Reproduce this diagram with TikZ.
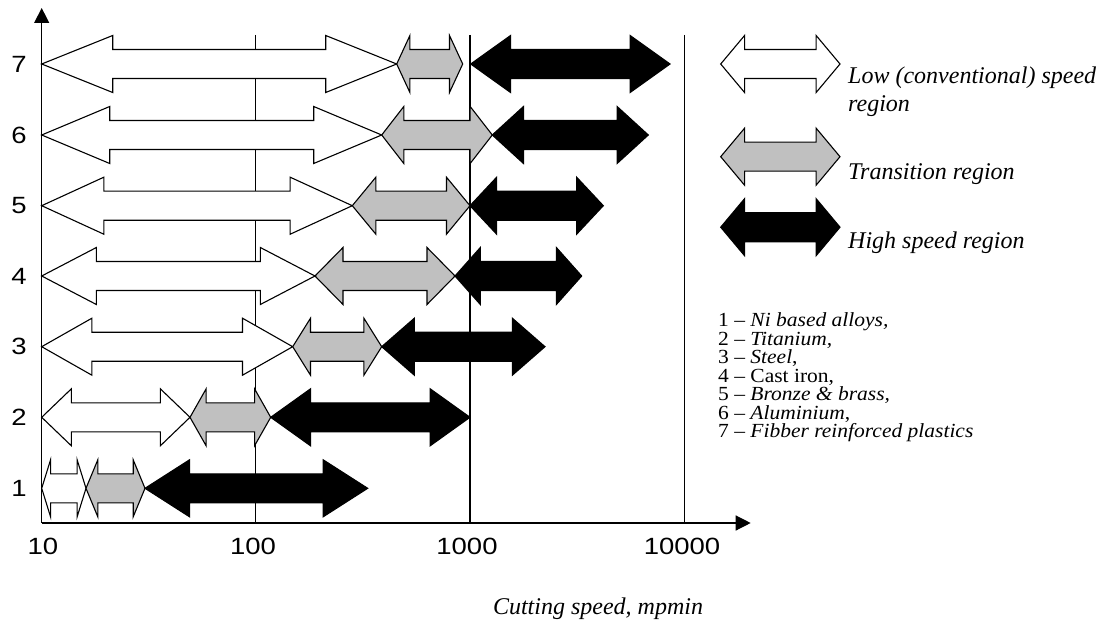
\documentclass[tikz,border=0pt]{standalone}
\usepackage{fontspec}
\setmainfont{Liberation Serif}
\newfontfamily\axfont[FakeStretch=1.17]{Liberation Sans}
\newfontfamily\listfont[FakeStretch=1.075,Ligatures=TeX]{Liberation Serif}
\usetikzlibrary{arrows.meta}
\definecolor{midgray}{RGB}{192,192,192}
% #1 style, #2 x-start, #3 x-end, #4 y-centre
\newcommand\regarrow[4]{%
  \pgfmathsetmacro\hl{0.2*(#3-#2)}%
  \draw[#1] (#2,#4) -- ({#2+\hl},{#4-28.5}) -- ({#2+\hl},{#4-14.5})
    -- ({#3-\hl},{#4-14.5}) -- ({#3-\hl},{#4-28.5}) -- (#3,#4)
    -- ({#3-\hl},{#4+28.5}) -- ({#3-\hl},{#4+14.5})
    -- ({#2+\hl},{#4+14.5}) -- ({#2+\hl},{#4+28.5}) -- cycle;}
\tikzset{
  lowreg/.style={draw=black, fill=white, line width=1.1pt, line join=miter},
  transreg/.style={draw=black, fill=midgray, line width=1.1pt, line join=miter},
  highreg/.style={draw=black, fill=black, line width=1.1pt, line join=miter},
  axisline/.style={line width=1.3pt, -{Triangle[length=15pt,width=15pt]}},
  gridline/.style={line width=1.2pt},
  ticklab/.style={inner sep=0pt, anchor=base, font=\axfont\fontsize{23.5}{28}\selectfont},
  rowlab/.style={inner sep=0pt, anchor=center, font=\axfont\fontsize{23.5}{28}\selectfont},
  legtext/.style={inner sep=0pt, anchor=base west, font=\itshape\fontsize{24}{28}\selectfont},
  listtext/.style={inner sep=0pt, anchor=base west, align=left, font=\listfont\fontsize{20}{18.45}\selectfont},
}
\begin{document}
\begin{tikzpicture}[x=1pt,y=-1pt]
\useasboundingbox[fill=white] (0,0) rectangle (1101,623);
% axes coordinates
\coordinate (O) at (41.7,523);
\coordinate (ytop) at (41.7,8);
\coordinate (xend) at (750.7,523);
\coordinate (g100t) at (255.7,35);
\coordinate (g100b) at (255.7,523);
\coordinate (g1000t) at (470,35);
\coordinate (g1000b) at (470,523);
\coordinate (g10000t) at (684.3,35);
\coordinate (g10000b) at (684.3,523);
% grid lines
\draw[gridline] (g100t) -- (g100b);
\draw[gridline] (g1000t) -- (g1000b);
\draw[gridline] (g10000t) -- (g10000b);
% rows (y centres 64,135,205.7,276,346.7,417.3,488.3)
\regarrow{lowreg}{41.7}{396.7}{64}
\regarrow{transreg}{396.7}{462.7}{64}
\regarrow{highreg}{470.7}{670}{64}
\regarrow{lowreg}{41.7}{381.7}{135}
\regarrow{transreg}{381.7}{492.3}{135}
\regarrow{highreg}{492.3}{648.3}{135}
\regarrow{lowreg}{41.7}{352.3}{205.7}
\regarrow{transreg}{352.3}{470}{205.7}
\regarrow{highreg}{470}{603.3}{205.7}
\regarrow{lowreg}{41.7}{315}{276}
\regarrow{transreg}{315}{455}{276}
\regarrow{highreg}{455}{581.7}{276}
\regarrow{lowreg}{41.7}{292.7}{346.7}
\regarrow{transreg}{292.7}{381.7}{346.7}
\regarrow{highreg}{381.7}{545}{346.7}
\regarrow{lowreg}{41.7}{190}{417.3}
\regarrow{transreg}{190}{270.7}{417.3}
\regarrow{highreg}{270.7}{470}{417.3}
\regarrow{lowreg}{41.7}{86}{488.3}
\regarrow{transreg}{86}{145}{488.3}
\regarrow{highreg}{145}{367.7}{488.3}
% axes
\draw[axisline] (O) -- (ytop);
\draw[axisline] (O) -- (xend);
% row labels
\node[rowlab] (r7) at (19,64) {7};
\node[rowlab] (r6) at (19,135) {6};
\node[rowlab] (r5) at (19,205.7) {5};
\node[rowlab] (r4) at (19,276) {4};
\node[rowlab] (r3) at (19,346.7) {3};
\node[rowlab] (r2) at (19,417.3) {2};
\node[rowlab] (r1) at (19,488.3) {1};
% tick labels
\node[ticklab] (t10) at (43,554.5) {10};
\node[ticklab] (t100) at (253,554.5) {100};
\node[ticklab] (t1000) at (467,554.5) {1000};
\node[ticklab] (t10000) at (682,554.5) {10000};
\node[legtext, anchor=base] (xlab) at (598,614) {Cutting speed, mpmin};
% legend
\regarrow{lowreg}{720.7}{840}{64}
\regarrow{transreg}{720.7}{840}{156.7}
\regarrow{highreg}{720.7}{840}{227.2}
\node[legtext] (leg1a) at (848,84) {Low (conventional) speed};
\node[legtext] (leg1b) at (848,112) {region};
\node[legtext] (leg2) at (848,180) {Transition region};
\node[legtext] (leg3) at (848,248) {High speed region};
% material list (base anchor = baseline of last line)
\node[listtext] (mats) at (718,437.5) {1 – \textit{Ni based alloys,}\\
2 – \textit{Titanium,}\\
3 – \textit{Steel},\\
4 – Cast iron,\\
5 – \textit{Bronze \& brass,}\\
6 – \textit{Aluminium},\\
7 – \textit{Fibber reinforced plastics}};
\end{tikzpicture}
\end{document}
